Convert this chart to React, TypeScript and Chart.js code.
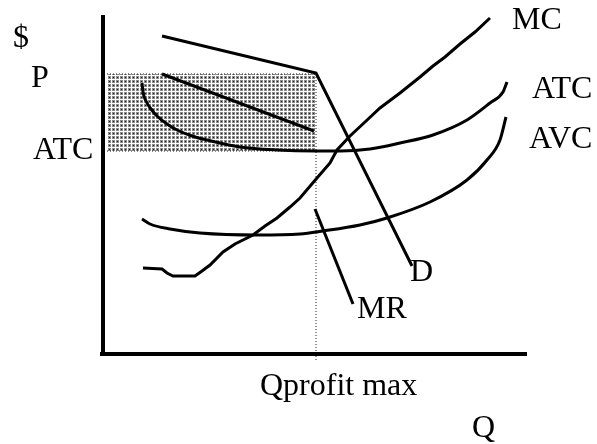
import React, { useEffect, useRef } from "react";
import { Chart, registerables } from "chart.js";

Chart.register(...registerables);

type Pt = { x: number; y: number };
const pts = (a: number[][]): Pt[] => a.map(([x, y]) => ({ x, y }));

// Quantity (Q) / price ($) readings, origin at the axes corner
const demand = [[59, 318], [213, 281], [309, 88]];
const mrUpper = [[59, 280], [211, 223]];
const mrLower = [[212, 145], [250, 50]];
const priceLevel = 280;
const atcLevel = 203;
const qProfitMax = 213;
const profitBoxQ = [4, 213];
const atcCurve = [
  [39, 271], [40, 262], [43, 253], [48, 245], [54, 238], [64, 230], [74, 224], [89, 218], [104, 214],
  [137, 207], [174, 204], [212, 203], [237, 203], [267, 205], [297, 211], [330, 219],
  [364, 234], [387, 251], [400, 262], [404, 272],
];
const avcCurve = [
  [39, 135], [47, 130], [67, 125], [97, 121], [154, 119], [197, 120], [220, 123], [257, 129],
  [284, 136], [327, 152], [364, 174], [384, 194], [397, 214], [403, 237],
];
const mcCurve = [
  [40, 86], [59, 85], [64, 81], [70, 78], [92, 78], [99, 83], [107, 89], [120, 102], [132, 110],
  [150, 119], [162, 128], [174, 136], [187, 147], [197, 156], [214, 176], [227, 191], [234, 204],
  [247, 218], [262, 232], [277, 246], [297, 261], [317, 277], [330, 288], [342, 297], [357, 310],
  [372, 322], [387, 336],
];
const yAxisLine = [[0, -2], [0, 339]];
const xAxisLine = [[-3, 0], [424, 0]];

const labelTexts = ["$", "P", "ATC", "MC", "ATC", "AVC", "D", "MR", "Qprofit max", "Q"];
const labelQ = [-90, -72, -70, 409, 429, 426, 307, 254, 157, 369];
const labelP = [307, 267, 195, 325, 256, 206, 73, 36, -41, -83];

export default function App() {
  const ref = useRef<HTMLCanvasElement | null>(null);

  useEffect(() => {
    const canvas = ref.current;
    if (!canvas) return;

    const tile = document.createElement("canvas");
    tile.width = 4;
    tile.height = 4;
    const tctx = tile.getContext("2d")!;
    tctx.fillStyle = "#ffffff";
    tctx.fillRect(0, 0, 4, 4);
    tctx.fillStyle = "#8a8a8a";
    tctx.fillRect(0, 0, 3, 3);
    tctx.fillStyle = "#1e1e1e";
    tctx.fillRect(1, 1, 1, 1);
    const pattern = canvas.getContext("2d")!.createPattern(tile, "repeat");

    const solid = (data: number[][], width = 3, tension = 0, mono = false) => ({
      type: "line" as const,
      data: pts(data),
      borderColor: "#000",
      borderWidth: width,
      pointRadius: 0,
      fill: false,
      tension,
      cubicInterpolationMode: mono ? ("monotone" as const) : ("default" as const),
      borderCapStyle: "butt" as const,
      order: 1,
    });

    const dotted = (data: number[][]) => ({
      type: "line" as const,
      data: pts(data),
      borderColor: "#222",
      borderWidth: 1,
      borderDash: [1, 2],
      pointRadius: 0,
      fill: false,
      tension: 0,
      order: 5,
    });

    const labelPlugin = {
      id: "labels",
      afterDraw(chart: any) {
        const ctx = chart.ctx;
        const xs = chart.scales.x;
        const ys = chart.scales.y;
        ctx.save();
        ctx.fillStyle = "#000";
        ctx.font = '32px "Liberation Serif", "Times New Roman", serif';
        ctx.textAlign = "left";
        ctx.textBaseline = "alphabetic";
        labelTexts.forEach((t, i) => {
          ctx.fillText(t, xs.getPixelForValue(labelQ[i]), ys.getPixelForValue(labelP[i]));
        });
        ctx.restore();
      },
    };

    const chart = new Chart(canvas, {
      type: "line",
      data: {
        datasets: [
          {
            type: "line",
            data: pts([[profitBoxQ[0], priceLevel], [profitBoxQ[1], priceLevel]]),
            borderColor: "#222",
            borderWidth: 1,
            borderDash: [1, 2],
            pointRadius: 0,
            backgroundColor: pattern as any,
            fill: { value: atcLevel },
            tension: 0,
            order: 10,
          } as any,
          dotted([[profitBoxQ[0], atcLevel], [profitBoxQ[1], atcLevel]]),
          dotted([[qProfitMax, priceLevel], [qProfitMax, -6]]),
          solid(demand),
          solid(mrUpper),
          solid(mrLower),
          solid(atcCurve, 3, 0.4, true),
          solid(avcCurve, 3, 0.4, true),
          solid(mcCurve, 3, 0),
          solid(yAxisLine, 4),
          solid(xAxisLine, 4),
        ] as any,
      },
      options: {
        animation: false,
        responsive: false,
        maintainAspectRatio: false,
        layout: { padding: 0 },
        plugins: { legend: { display: false }, tooltip: { enabled: false } },
        scales: {
          x: { type: "linear", min: -103, max: 494, display: false },
          y: { type: "linear", min: -90, max: 354, display: false },
        },
      },
      plugins: [labelPlugin],
    });

    return () => chart.destroy();
  }, []);

  return (
    <div style={{ position: "fixed", left: 0, top: 0, width: 597, height: 444, background: "#fff" }}>
      <canvas ref={ref} width={597} height={444} style={{ width: 597, height: 444, display: "block" }} />
    </div>
  );
}
